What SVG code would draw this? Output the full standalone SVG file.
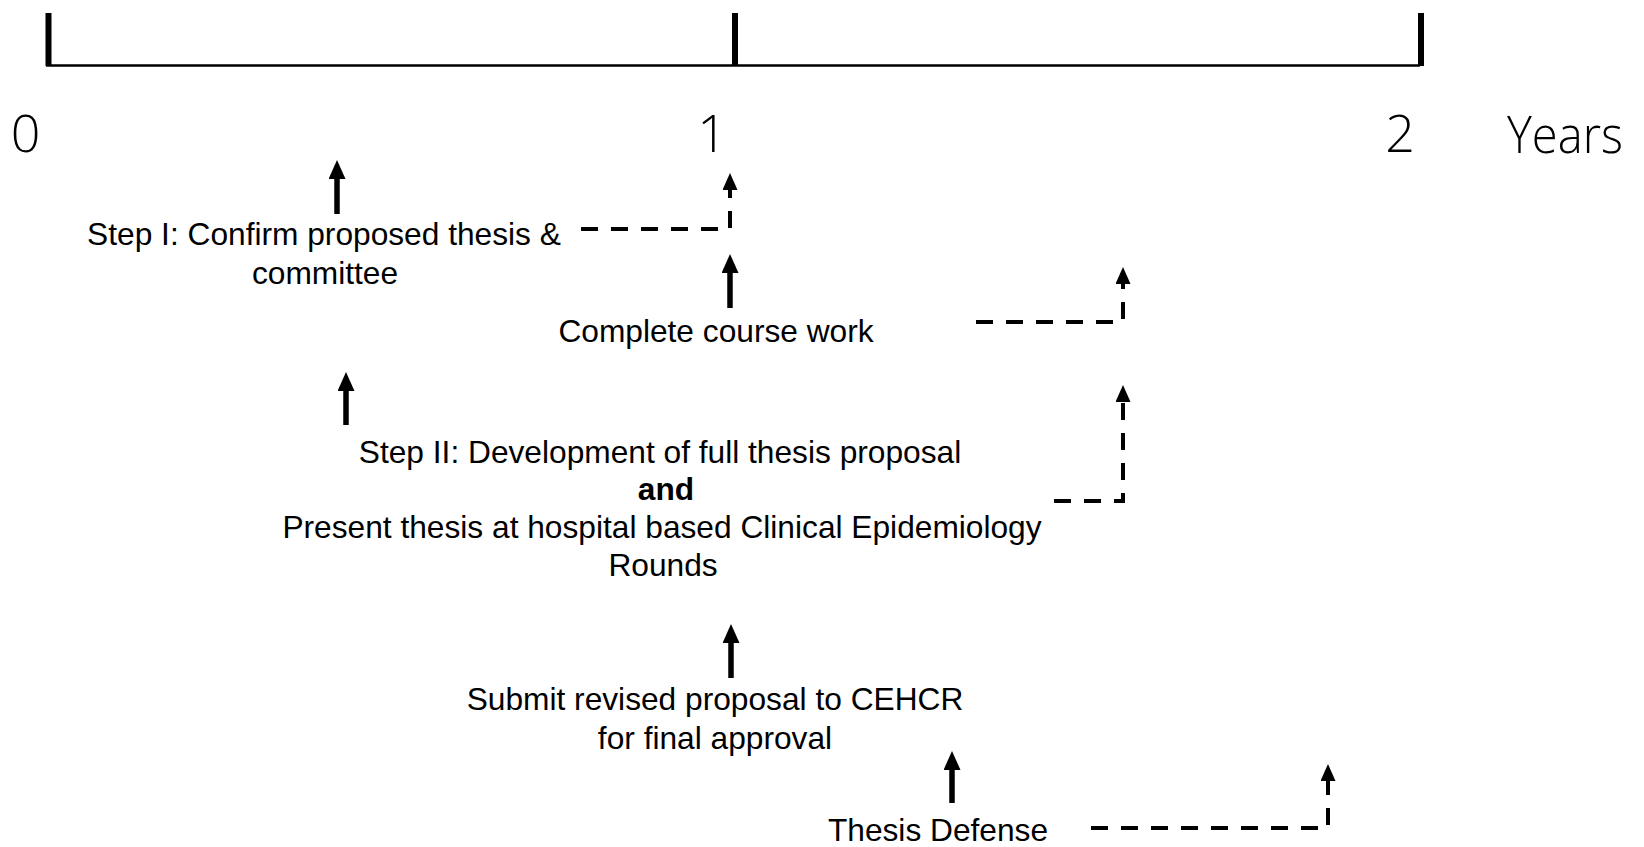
<svg xmlns="http://www.w3.org/2000/svg" width="1644" height="847" viewBox="0 0 1644 847">
<style>
  .lbl { font-family: "Liberation Sans", Arial, sans-serif; font-size: 31.7px; fill: #000; text-anchor: middle; }
  .b { font-weight: bold; }
  .axnum { font-family: "Open Sans", "Liberation Sans", Arial, sans-serif; font-weight: 300; font-size: 52px; fill: #000; }
  .tick { stroke: #000; stroke-width: 6; }
  .axis { stroke: #000; stroke-width: 2.5; }
  .solid { stroke: #000; stroke-width: 5.5; fill: none; marker-end: url(#headS); }
  .dash { stroke: #000; stroke-width: 4; fill: none; stroke-dasharray: 17 13; marker-end: url(#headD); }
</style>
<defs>
  <marker id="headS" markerUnits="userSpaceOnUse" markerWidth="20" markerHeight="18" refX="1" refY="8.5" orient="auto">
    <path d="M0,0 L19,8.5 L0,17 z" fill="#000"/>
  </marker>
  <marker id="headD" markerUnits="userSpaceOnUse" markerWidth="18" markerHeight="16" refX="1" refY="7.5" orient="auto">
    <path d="M0,0 L17,7.5 L0,15 z" fill="#000"/>
  </marker>
</defs>
<rect width="1644" height="847" fill="#fff"/>

<g id="timeline">
  <line class="axis" x1="46" y1="65.5" x2="1420" y2="65.5"/>
  <line class="tick" x1="48.5" y1="13" x2="48.5" y2="66"/>
  <line class="tick" x1="735" y1="13" x2="735" y2="66"/>
  <line class="tick" x1="1421" y1="13" x2="1421" y2="66"/>
  <text class="axnum" x="25.5" y="152" text-anchor="middle">0</text>
  <text class="axnum" x="712" y="152" text-anchor="middle">1</text>
  <text class="axnum" x="1400" y="152" text-anchor="middle">2</text>
  <text class="axnum" x="1507" y="153" textLength="116" lengthAdjust="spacingAndGlyphs">Years</text>
</g>

<g id="step1">
  <text class="lbl" x="324" y="245">Step I: Confirm proposed thesis &amp;</text>
  <text class="lbl" x="325" y="284">committee</text>
</g>

<g id="coursework">
  <text class="lbl" x="716" y="342">Complete course work</text>
</g>

<g id="step2">
  <text class="lbl" x="660" y="463">Step II: Development of full thesis proposal</text>
  <text class="lbl b" x="666" y="500">and</text>
  <text class="lbl" x="662" y="538">Present thesis at hospital based Clinical Epidemiology</text>
  <text class="lbl" x="663" y="576">Rounds</text>
</g>

<g id="submit">
  <text class="lbl" x="715" y="710">Submit revised proposal to CEHCR</text>
  <text class="lbl" x="715" y="749">for final approval</text>
</g>

<g id="defense">
  <text class="lbl" x="938" y="841">Thesis Defense</text>
</g>

<g id="connectors">
  <path class="solid" d="M337,214 V178"/>
  <path class="solid" d="M730,308 V272"/>
  <path class="solid" d="M346,425 V390"/>
  <path class="solid" d="M731,678 V642"/>
  <path class="solid" d="M952,803 V769"/>

  <path class="dash" d="M581,229 H730 V189"/>
  <path class="dash" d="M976,322 H1123 V283"/>
  <path class="dash" d="M1054,501 H1123 V401"/>
  <path class="dash" d="M1091,828 H1328 V780"/>
</g>
</svg>
